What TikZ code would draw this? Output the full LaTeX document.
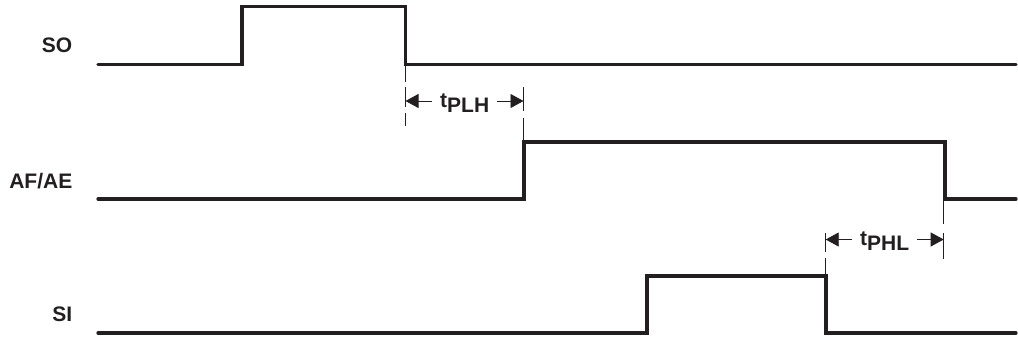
\documentclass[tikz,border=0pt]{standalone}
\usepackage{fontspec}
\setmainfont{Liberation Sans}
\usetikzlibrary{arrows.meta}
\definecolor{ink}{HTML}{231F20}
\tikzset{
  x=1pt,y=-1pt,
  sig/.style={draw=ink,line width=3.2pt,line join=miter,line cap=round},
  guide/.style={draw=ink,line width=0.9pt},
  dimarrow/.style={draw=ink,line width=0.9pt,-{Triangle[length=13pt,width=14pt]}},
  siglabel/.style={text=ink,font=\fontsize{21}{24}\selectfont\bfseries,anchor=base east,inner sep=0pt},
  timelabel/.style={text=ink,font=\fontsize{21}{24}\selectfont\bfseries,anchor=base west,inner sep=0pt}
}
\begin{document}
\begin{tikzpicture}
\useasboundingbox (0,0) rectangle (1018,341);
% signals
\draw[sig] (98,64.5) -- (242,64.5) -- (242,6.5) -- (405.5,6.5) -- (405.5,64.5) -- (1016,64.5);
\draw[sig] (98,199) -- (524,199) -- (524,142) -- (945,142) -- (945,199) -- (1016,199);
\draw[sig] (98,333) -- (647,333) -- (647,276) -- (826,276) -- (826,333) -- (1016,333);
% labels
\node[siglabel] (so) at (72.5,52) {SO};
\node[siglabel] (afae) at (72.5,188) {AF/AE};
\node[siglabel] (si) at (72.5,321.5) {SI};
% tPLH guides
\draw[guide] (405.5,65) -- (405.5,82);
\draw[guide] (405.5,87) -- (405.5,107);
\draw[guide] (405.5,113) -- (405.5,126);
\draw[guide] (523.5,87) -- (523.5,111);
\draw[guide] (523.5,118) -- (523.5,141);
% tPHL guides
\draw[guide] (825.7,233) -- (825.7,252);
\draw[guide] (825.7,258) -- (825.7,275);
\draw[guide] (943.7,200) -- (943.7,224);
\draw[guide] (943.7,233) -- (943.7,259);
% dimension arrows
\coordinate (a1) at (405.5,101);
\coordinate (a2) at (523.5,101);
\coordinate (b1) at (825.7,239.5);
\coordinate (b2) at (943.7,239.5);
\node[timelabel] (tplh) at (440,107) {t\raisebox{-5pt}{PLH}};
\node[timelabel] (tphl) at (860,245) {t\raisebox{-5pt}{PHL}};
\draw[dimarrow] (tplh.west |- a1) ++(-8,0) -- (a1);
\draw[dimarrow] (tplh.east |- a2) ++(8,0) -- (a2);
\draw[dimarrow] (tphl.west |- b1) ++(-8,0) -- (b1);
\draw[dimarrow] (tphl.east |- b2) ++(8,0) -- (b2);
\end{tikzpicture}
\end{document}
